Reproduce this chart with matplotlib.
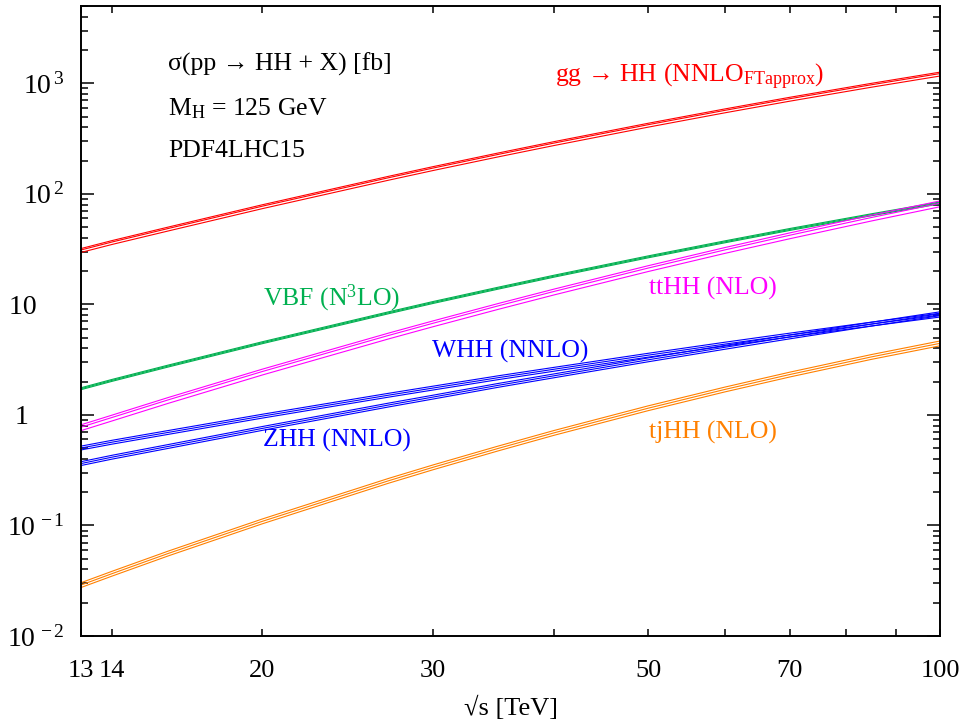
import matplotlib
matplotlib.use("Agg")
import matplotlib.pyplot as plt
from matplotlib.ticker import FixedLocator, FixedFormatter, LogLocator, NullFormatter, NullLocator

plt.rcParams['font.family'] = ['Liberation Serif', 'DejaVu Serif']
plt.rcParams['mathtext.fontset'] = 'custom'
plt.rcParams['mathtext.rm'] = 'Liberation Serif'
plt.rcParams['mathtext.it'] = 'Liberation Serif:italic'
plt.rcParams['mathtext.bf'] = 'Liberation Serif:bold'

# sqrt(s) [TeV] and cross sections [fb]
sqrt_s = [13, 14, 16, 20, 27, 30, 35, 40, 50, 60, 70, 85, 100]
xs_ggf = [31.05, 36.69, 48.6, 77.3, 139.9, 171, 227, 288, 422, 569, 725, 970, 1224]
xs_vbf = [1.726, 2.055, 2.77, 4.50, 8.40, 10.4, 14.0, 18.0, 26.9, 36.8, 47.6, 64.7, 82.8]
xs_tthh = [0.775, 0.949, 1.37, 2.47, 5.24, 6.75, 9.68, 13.1, 21.3, 31.1, 42.2, 61.1, 82.1]
xs_whh = [0.502, 0.567, 0.695, 0.975, 1.509, 1.75, 2.17, 2.59, 3.47, 4.37, 5.28, 6.64, 8.00]
xs_zhh = [0.363, 0.415, 0.519, 0.755, 1.23, 1.45, 1.85, 2.26, 3.15, 4.09, 5.08, 6.63, 8.23]
xs_tjhh = [0.0289, 0.0367, 0.0559, 0.109, 0.254, 0.336, 0.497, 0.689, 1.15, 1.70, 2.32, 3.35, 4.44]

# relative uncertainty (up, down) of each band
unc_ggf = (0.03, 0.05)
unc_vbf = (0.02, 0.02)
unc_tthh = (0.05, 0.07)
unc_whh = (0.04, 0.04)
unc_zhh = (0.04, 0.04)
unc_tjhh = (0.05, 0.05)

x_ticks = [13, 14, 20, 30, 40, 50, 60, 70, 80, 90, 100]
x_ticklabels = ['13', '14', '20', '30', '', '50', '', '70', '', '', '100']
y_ticks = [1e-2, 1e-1, 1, 10, 1e2, 1e3]
y_ticklabels = [r'$10^{\,-2}$', r'$10^{\,-1}$', '1     ', '10    ', r'$10^{\,2}$', r'$10^{\,3}$']

processes = [
    (xs_ggf, unc_ggf, '#ff0000'),
    (xs_vbf, unc_vbf, '#00b050'),
    (xs_tthh, unc_tthh, '#ff00ff'),
    (xs_whh, unc_whh, '#0000ff'),
    (xs_zhh, unc_zhh, '#0000ff'),
    (xs_tjhh, unc_tjhh, '#ff8000'),
]

fig = plt.figure(figsize=(9.63, 7.27), dpi=100)
ax = fig.add_axes([81 / 963, 91 / 727, 859 / 963, 630 / 727])

for xs, (up, dn), col in processes:
    ax.plot(sqrt_s, [v * (1 + up) for v in xs], color=col, lw=0.8)
    ax.plot(sqrt_s, xs, color=col, lw=0.8)
    ax.plot(sqrt_s, [v * (1 - dn) for v in xs], color=col, lw=0.8)

ax.set_xscale('log')
ax.set_yscale('log')
ax.set_xlim(13, 100)
ax.set_ylim(1e-2, 5e3)

ax.xaxis.set_major_locator(FixedLocator(x_ticks))
ax.xaxis.set_major_formatter(FixedFormatter(x_ticklabels))
ax.xaxis.set_minor_locator(NullLocator())
ax.yaxis.set_major_locator(FixedLocator(y_ticks))
ax.yaxis.set_major_formatter(FixedFormatter(y_ticklabels))
ax.yaxis.set_minor_locator(LogLocator(base=10, subs=range(2, 10), numticks=20))
ax.yaxis.set_minor_formatter(NullFormatter())

ax.tick_params(axis='x', which='both', direction='in', top=True, length=5, width=1.1,
               labelsize=19, pad=17)
ax.tick_params(axis='y', which='major', direction='in', right=True, length=9.5, width=1.1,
               labelsize=20, pad=12)
ax.tick_params(axis='y', which='minor', direction='in', right=True, length=5, width=1.1)
for sp in ax.spines.values():
    sp.set_linewidth(1.4)

ax.set_xlabel('\u221as [TeV]', fontsize=19, labelpad=10)

fs = 18.5
ax.text(0.1013, 0.8968, r'σ(pp → HH + X) [fb]', transform=ax.transAxes, fontsize=fs, va='baseline')
ax.text(0.1013, 0.827, r'M$_{\rm H}$ = 125 GeV', transform=ax.transAxes, fontsize=fs, va='baseline')
ax.text(0.1013, 0.7603, 'PDF4LHC15', transform=ax.transAxes, fontsize=fs, va='baseline')

ax.text(0.5518, 0.8794, r'gg → HH (NNLO$_{\rm FTapprox}$)', transform=ax.transAxes, fontsize=fs,
        va='baseline', color='#ff0000')
ax.text(0.2119, 0.5254, r'VBF (N$^{3}$LO)', transform=ax.transAxes, fontsize=fs, va='baseline',
        color='#00b050')
ax.text(0.6612, 0.5413, 'ttHH (NLO)', transform=ax.transAxes, fontsize=fs, va='baseline',
        color='#ff00ff')
ax.text(0.409, 0.4413, 'WHH (NNLO)', transform=ax.transAxes, fontsize=fs, va='baseline',
        color='#0000ff')
ax.text(0.2119, 0.300, 'ZHH (NNLO)', transform=ax.transAxes, fontsize=fs, va='baseline',
        color='#0000ff')
ax.text(0.6612, 0.3127, 'tjHH (NLO)', transform=ax.transAxes, fontsize=fs, va='baseline',
        color='#ff8000')

fig.savefig('out.png', dpi=100)
